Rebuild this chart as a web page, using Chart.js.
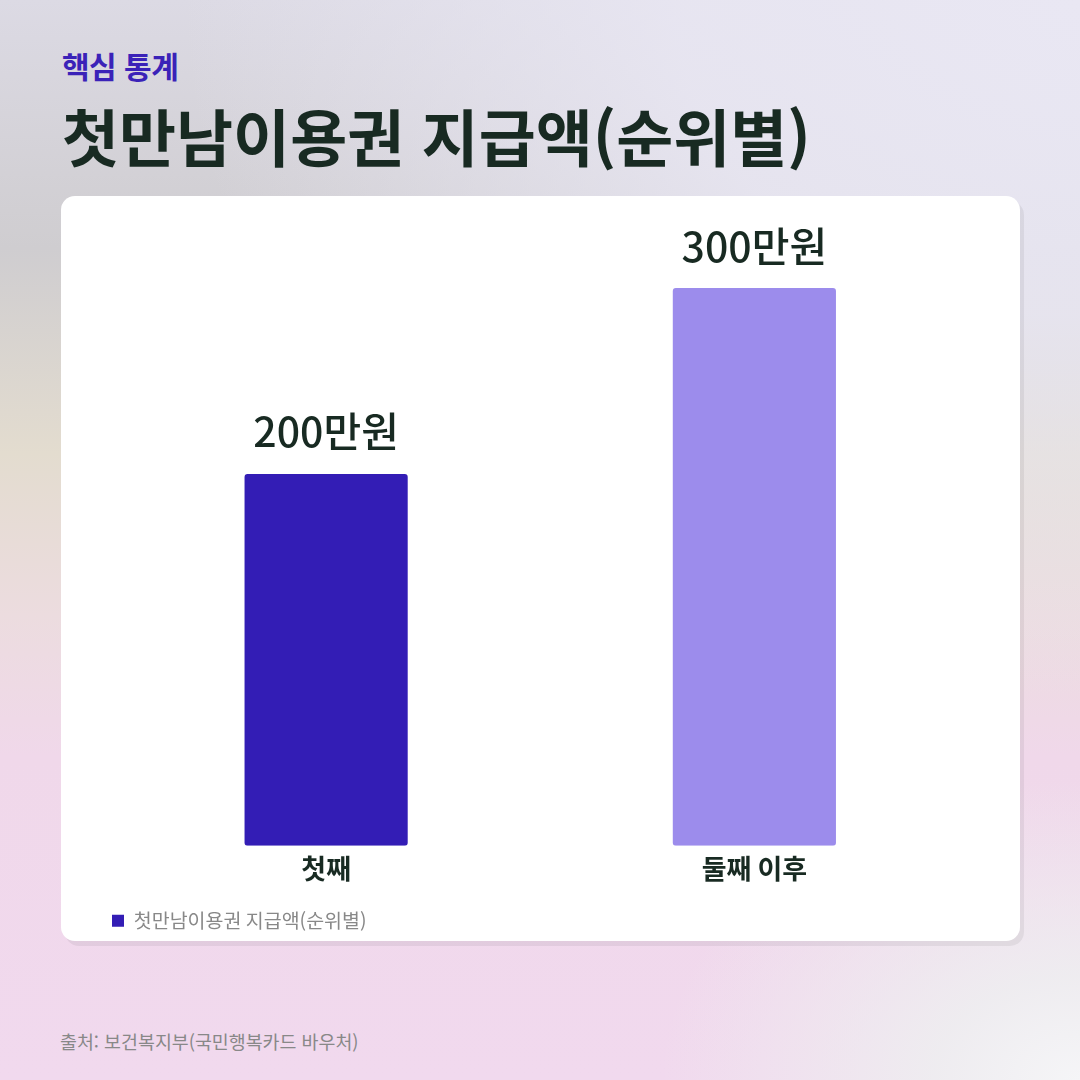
<!DOCTYPE html>
<html lang="ko">
<head>
<meta charset="utf-8">
<script src="https://cdn.jsdelivr.net/npm/chart.js@4/dist/chart.umd.min.js"></script>
<style>
  html, body { margin: 0; padding: 0; }
  body {
    width: 1080px; height: 1080px; position: relative; overflow: hidden;
    font-family: "Noto Sans CJK KR", "Noto Sans", sans-serif;
    background:
      radial-gradient(ellipse 420px 300px at 100% 100%, #f5f5f7 0%, rgba(238,238,240,0.9) 35%, rgba(222,220,216,0) 100%),
      radial-gradient(ellipse 900px 700px at 100% 0%, #e9e7f3 0%, rgba(233,231,243,0.85) 45%, rgba(233,231,243,0) 100%),
      linear-gradient(180deg, #dcdae4 0%, #cfcdd0 23%, #e3dccf 42%, #ecdcdf 57%, #f0d8ea 70%, #f1d9ee 100%);
  }
  .kicker { position: absolute; left: 62px; top: 43px; font-size: 30px; font-weight: 700; color: #3a22b8; letter-spacing: -0.5px; }
  .title { position: absolute; left: 62px; top: 98px; font-size: 62px; font-weight: 700; color: #182a22; line-height: 1.2; }
  .card {
    position: absolute; left: 61px; top: 196px; width: 959px; height: 745px;
    background: #fff; border-radius: 14px;
    box-shadow: 4px 5px 0 rgba(0,0,0,0.06);
  }
  .source { position: absolute; left: 60px; top: 1028px; font-size: 18.4px; color: #888; }
</style>
</head>
<body>
<div class="kicker">핵심 통계</div>
<div class="title">첫만남이용권 지급액(순위별)</div>
<div class="card"><canvas id="chart"></canvas></div>
<div class="source">출처: 보건복지부(국민행복카드 바우처)</div>
<script>
// data
const categories = ['첫째', '둘째 이후'];
const amounts = [200, 300];          // 만원
const barColors = ['#331db5', '#9c8cec'];
const seriesLabel = '첫만남이용권 지급액(순위별)';
const unit = '만원';

const fontFamily = '"Noto Sans CJK KR", "Noto Sans", sans-serif';

// value labels above each bar
const valueLabels = {
  id: 'valueLabels',
  afterDatasetsDraw(chart) {
    const ctx = chart.ctx;
    const meta = chart.getDatasetMeta(0);
    ctx.save();
    ctx.font = '500 41px ' + fontFamily;
    ctx.fillStyle = '#182a22';
    ctx.textAlign = 'center';
    ctx.textBaseline = 'middle';
    meta.data.forEach((bar, i) => {
      ctx.fillText(amounts[i] + unit, bar.x, bar.y - 42);
    });
    ctx.restore();
  }
};

new Chart(document.getElementById('chart'), {
  type: 'bar',
  data: {
    labels: categories,
    datasets: [{
      label: seriesLabel,
      data: amounts,
      backgroundColor: barColors,
      borderRadius: 3,
      borderSkipped: false,
      barPercentage: 0.381,
      categoryPercentage: 1
    }]
  },
  options: {
    responsive: true,
    maintainAspectRatio: false,
    devicePixelRatio: 1,
    animation: false,
    layout: { padding: { top: 92, left: 41, right: 51.5, bottom: 0.5 } },
    scales: {
      x: {
        grid: { display: false, drawTicks: false },
        border: { display: false },
        ticks: {
          color: '#182a22',
          padding: 1.5,
          font: { family: fontFamily, size: 27, weight: '700', lineHeight: 42 / 27 }
        },
        // empty title only used as spacer between tick labels and legend
        title: { display: true, text: ' ', font: { size: 1, lineHeight: 1 }, padding: { top: 9.25, bottom: 0 } }
      },
      y: {
        min: 0,
        max: 300,
        grid: { display: false },
        border: { display: false },
        ticks: { display: false },
        afterFit(scale) { scale.width = 10; }
      }
    },
    plugins: {
      legend: {
        position: 'bottom',
        align: 'start',
        labels: {
          boxWidth: 12,
          boxHeight: 12,
          padding: 10,
          color: '#888',
          font: { family: fontFamily, size: 19.5 },
          generateLabels(chart) {
            return [{ text: seriesLabel, fillStyle: barColors[0], strokeStyle: barColors[0], fontColor: '#888', lineWidth: 0, datasetIndex: 0 }];
          }
        }
      },
      tooltip: { enabled: false }
    }
  },
  plugins: [valueLabels]
});
</script>
</body>
</html>
